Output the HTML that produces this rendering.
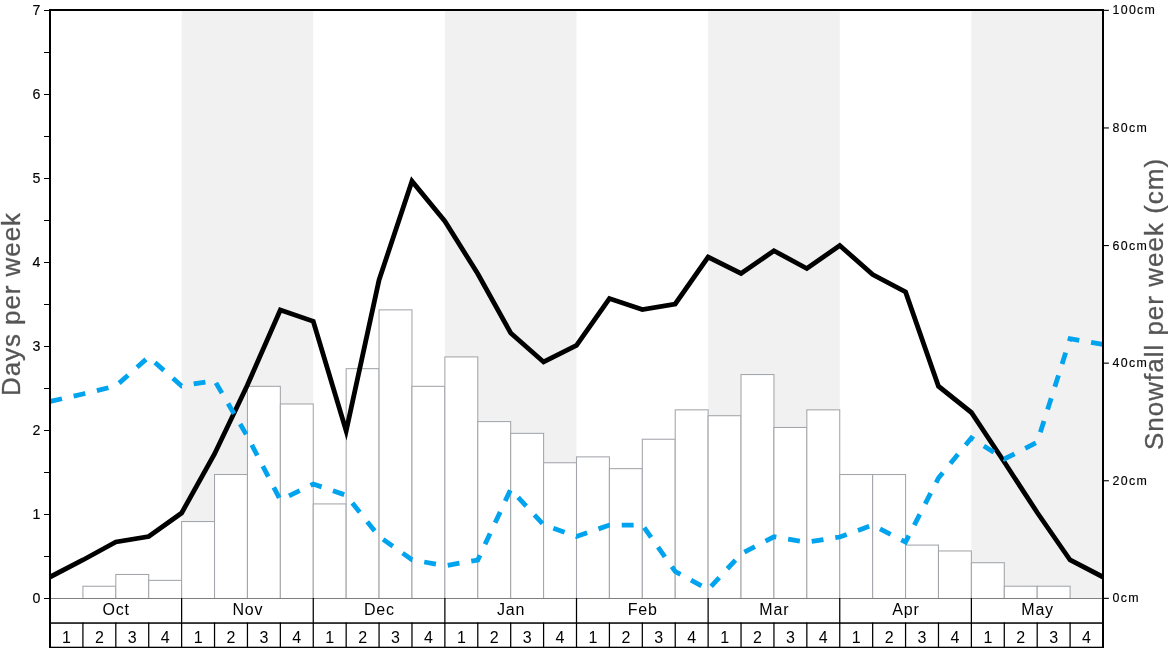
<!DOCTYPE html>
<html><head><meta charset="utf-8"><title>Snow history</title>
<style>
html,body{margin:0;padding:0;background:#fff;}
body{width:1168px;height:648px;overflow:hidden;font-family:"Liberation Sans",sans-serif;}
svg{display:block;will-change:transform;}
</style></head><body>
<svg width="1168" height="648" viewBox="0 0 1168 648">
<rect x="0" y="0" width="1168" height="648" fill="#ffffff"/>
<rect x="181.62" y="10" width="131.62" height="588" fill="#f1f1f1"/>
<rect x="444.88" y="10" width="131.62" height="588" fill="#f1f1f1"/>
<rect x="708.12" y="10" width="131.62" height="588" fill="#f1f1f1"/>
<rect x="971.38" y="10" width="131.62" height="588" fill="#f1f1f1"/>
<rect x="82.91" y="586.24" width="32.906" height="12.26" fill="#ffffff" stroke="#a2a5a9" stroke-width="1.05"/>
<rect x="115.81" y="574.48" width="32.906" height="24.02" fill="#ffffff" stroke="#a2a5a9" stroke-width="1.05"/>
<rect x="148.72" y="580.36" width="32.906" height="18.14" fill="#ffffff" stroke="#a2a5a9" stroke-width="1.05"/>
<rect x="181.62" y="521.56" width="32.906" height="76.94" fill="#ffffff" stroke="#a2a5a9" stroke-width="1.05"/>
<rect x="214.53" y="474.52" width="32.906" height="123.98" fill="#ffffff" stroke="#a2a5a9" stroke-width="1.05"/>
<rect x="247.44" y="386.32" width="32.906" height="212.18" fill="#ffffff" stroke="#a2a5a9" stroke-width="1.05"/>
<rect x="280.34" y="403.96" width="32.906" height="194.54" fill="#ffffff" stroke="#a2a5a9" stroke-width="1.05"/>
<rect x="313.25" y="503.92" width="32.906" height="94.58" fill="#ffffff" stroke="#a2a5a9" stroke-width="1.05"/>
<rect x="346.16" y="368.68" width="32.906" height="229.82" fill="#ffffff" stroke="#a2a5a9" stroke-width="1.05"/>
<rect x="379.06" y="309.88" width="32.906" height="288.62" fill="#ffffff" stroke="#a2a5a9" stroke-width="1.05"/>
<rect x="411.97" y="386.32" width="32.906" height="212.18" fill="#ffffff" stroke="#a2a5a9" stroke-width="1.05"/>
<rect x="444.88" y="356.92" width="32.906" height="241.58" fill="#ffffff" stroke="#a2a5a9" stroke-width="1.05"/>
<rect x="477.78" y="421.60" width="32.906" height="176.90" fill="#ffffff" stroke="#a2a5a9" stroke-width="1.05"/>
<rect x="510.69" y="433.36" width="32.906" height="165.14" fill="#ffffff" stroke="#a2a5a9" stroke-width="1.05"/>
<rect x="543.59" y="462.76" width="32.906" height="135.74" fill="#ffffff" stroke="#a2a5a9" stroke-width="1.05"/>
<rect x="576.50" y="456.88" width="32.906" height="141.62" fill="#ffffff" stroke="#a2a5a9" stroke-width="1.05"/>
<rect x="609.41" y="468.64" width="32.906" height="129.86" fill="#ffffff" stroke="#a2a5a9" stroke-width="1.05"/>
<rect x="642.31" y="439.24" width="32.906" height="159.26" fill="#ffffff" stroke="#a2a5a9" stroke-width="1.05"/>
<rect x="675.22" y="409.84" width="32.906" height="188.66" fill="#ffffff" stroke="#a2a5a9" stroke-width="1.05"/>
<rect x="708.12" y="415.72" width="32.906" height="182.78" fill="#ffffff" stroke="#a2a5a9" stroke-width="1.05"/>
<rect x="741.03" y="374.56" width="32.906" height="223.94" fill="#ffffff" stroke="#a2a5a9" stroke-width="1.05"/>
<rect x="773.94" y="427.48" width="32.906" height="171.02" fill="#ffffff" stroke="#a2a5a9" stroke-width="1.05"/>
<rect x="806.84" y="409.84" width="32.906" height="188.66" fill="#ffffff" stroke="#a2a5a9" stroke-width="1.05"/>
<rect x="839.75" y="474.52" width="32.906" height="123.98" fill="#ffffff" stroke="#a2a5a9" stroke-width="1.05"/>
<rect x="872.66" y="474.52" width="32.906" height="123.98" fill="#ffffff" stroke="#a2a5a9" stroke-width="1.05"/>
<rect x="905.56" y="545.08" width="32.906" height="53.42" fill="#ffffff" stroke="#a2a5a9" stroke-width="1.05"/>
<rect x="938.47" y="550.96" width="32.906" height="47.54" fill="#ffffff" stroke="#a2a5a9" stroke-width="1.05"/>
<rect x="971.38" y="562.72" width="32.906" height="35.78" fill="#ffffff" stroke="#a2a5a9" stroke-width="1.05"/>
<rect x="1004.28" y="586.24" width="32.906" height="12.26" fill="#ffffff" stroke="#a2a5a9" stroke-width="1.05"/>
<rect x="1037.19" y="586.24" width="32.906" height="12.26" fill="#ffffff" stroke="#a2a5a9" stroke-width="1.05"/>
<rect x="51" y="598" width="1051" height="1" fill="#808080" shape-rendering="crispEdges"/>
<polyline points="50.00,577.00 82.91,560.00 115.81,542.00 148.72,536.50 181.62,513.00 214.53,454.00 247.44,385.00 280.34,310.00 313.25,321.25 346.16,431.00 379.06,280.00 411.97,181.25 444.88,221.25 477.78,273.75 510.69,333.00 543.59,362.00 576.50,345.50 609.41,298.50 642.31,309.50 675.22,304.00 708.12,257.00 741.03,273.50 773.94,250.75 806.84,268.50 839.75,245.50 872.66,274.50 905.56,292.00 938.47,386.25 971.38,412.50 1004.28,462.00 1037.19,512.50 1070.09,560.00 1103.00,577.00" fill="none" stroke="#000" stroke-width="4.8" stroke-linejoin="miter" stroke-miterlimit="10"/>
<polyline points="50.00,401.50 82.91,394.00 115.81,386.00 148.72,357.00 181.62,386.00 214.53,380.50 247.44,436.50 280.34,500.00 313.25,484.00 346.16,495.30 379.06,536.50 411.97,559.75 444.88,565.80 477.78,560.00 510.69,489.30 543.59,524.75 576.50,536.40 609.41,525.10 642.31,525.00 675.22,571.50 708.12,589.50 741.03,554.00 773.94,536.75 806.84,542.25 839.75,537.00 872.66,525.10 905.56,542.00 938.47,478.00 971.38,438.00 1004.28,459.00 1037.19,442.25 1070.09,338.75 1103.00,344.50" fill="none" stroke="#00a3ee" stroke-width="4.8" stroke-linejoin="miter" stroke-dasharray="11.9 11.99" stroke-dashoffset="-0.35"/>
<g shape-rendering="crispEdges" fill="#000">
<rect x="49" y="9" width="2" height="639"/>
<rect x="1102" y="9" width="2" height="639"/>
<rect x="49" y="9" width="1055" height="2"/>
</g>
<g fill="#000">
<rect x="49" y="622.3" width="1055" height="1.5"/>
<rect x="49" y="646.7" width="1055" height="1.3"/>
<rect x="82.29" y="622.5" width="1.25" height="25.5"/>
<rect x="115.19" y="622.5" width="1.25" height="25.5"/>
<rect x="148.10" y="622.5" width="1.25" height="25.5"/>
<rect x="181.00" y="598" width="1.25" height="50"/>
<rect x="213.91" y="622.5" width="1.25" height="25.5"/>
<rect x="246.82" y="622.5" width="1.25" height="25.5"/>
<rect x="279.72" y="622.5" width="1.25" height="25.5"/>
<rect x="312.63" y="598" width="1.25" height="50"/>
<rect x="345.54" y="622.5" width="1.25" height="25.5"/>
<rect x="378.44" y="622.5" width="1.25" height="25.5"/>
<rect x="411.35" y="622.5" width="1.25" height="25.5"/>
<rect x="444.25" y="598" width="1.25" height="50"/>
<rect x="477.16" y="622.5" width="1.25" height="25.5"/>
<rect x="510.07" y="622.5" width="1.25" height="25.5"/>
<rect x="542.97" y="622.5" width="1.25" height="25.5"/>
<rect x="575.88" y="598" width="1.25" height="50"/>
<rect x="608.79" y="622.5" width="1.25" height="25.5"/>
<rect x="641.69" y="622.5" width="1.25" height="25.5"/>
<rect x="674.60" y="622.5" width="1.25" height="25.5"/>
<rect x="707.50" y="598" width="1.25" height="50"/>
<rect x="740.41" y="622.5" width="1.25" height="25.5"/>
<rect x="773.32" y="622.5" width="1.25" height="25.5"/>
<rect x="806.22" y="622.5" width="1.25" height="25.5"/>
<rect x="839.13" y="598" width="1.25" height="50"/>
<rect x="872.04" y="622.5" width="1.25" height="25.5"/>
<rect x="904.94" y="622.5" width="1.25" height="25.5"/>
<rect x="937.85" y="622.5" width="1.25" height="25.5"/>
<rect x="970.75" y="598" width="1.25" height="50"/>
<rect x="1003.66" y="622.5" width="1.25" height="25.5"/>
<rect x="1036.57" y="622.5" width="1.25" height="25.5"/>
<rect x="1069.47" y="622.5" width="1.25" height="25.5"/>
</g>
<g shape-rendering="crispEdges" fill="#000">
<rect x="44" y="598" width="5" height="1"/>
<rect x="44" y="556" width="5" height="1"/>
<rect x="44" y="514" width="5" height="1"/>
<rect x="44" y="472" width="5" height="1"/>
<rect x="44" y="430" width="5" height="1"/>
<rect x="44" y="388" width="5" height="1"/>
<rect x="44" y="346" width="5" height="1"/>
<rect x="44" y="304" width="5" height="1"/>
<rect x="44" y="262" width="5" height="1"/>
<rect x="44" y="220" width="5" height="1"/>
<rect x="44" y="178" width="5" height="1"/>
<rect x="44" y="136" width="5" height="1"/>
<rect x="44" y="94" width="5" height="1"/>
<rect x="44" y="52" width="5" height="1"/>
<rect x="44" y="10" width="5" height="1"/>
</g>
<g fill="#000">
<rect x="1104" y="597.80" width="4.9" height="1.1"/>
<rect x="1104" y="480.20" width="4.9" height="1.1"/>
<rect x="1104" y="362.60" width="4.9" height="1.1"/>
<rect x="1104" y="245.00" width="4.9" height="1.1"/>
<rect x="1104" y="127.40" width="4.9" height="1.1"/>
<rect x="1104" y="9.80" width="4.9" height="1.1"/>
</g>
<g font-family="Liberation Sans, sans-serif" font-size="14.2px" fill="#000" stroke="#000" stroke-width="0.15" text-anchor="end">
<text x="40.3" y="603.00">0</text>
<text x="40.3" y="519.00">1</text>
<text x="40.3" y="435.00">2</text>
<text x="40.3" y="351.00">3</text>
<text x="40.3" y="267.00">4</text>
<text x="40.3" y="183.00">5</text>
<text x="40.3" y="99.00">6</text>
<text x="40.3" y="15.00">7</text>
</g>
<g font-family="Liberation Sans, sans-serif" font-size="12.4px" fill="#000" stroke="#000" stroke-width="0.15" text-anchor="start" letter-spacing="1.3">
<text x="1112.55" y="601.5">0cm</text>
<text x="1112.55" y="484.8">20cm</text>
<text x="1112.55" y="366.9">40cm</text>
<text x="1112.55" y="249.8">60cm</text>
<text x="1112.55" y="131.8">80cm</text>
<text x="1112.55" y="13.7">100cm</text>
</g>
<g font-family="Liberation Sans, sans-serif" font-size="16px" fill="#000" text-anchor="middle" letter-spacing="0.8">
<text x="116.21" y="615.2">Oct</text>
<text x="247.84" y="615.2">Nov</text>
<text x="379.46" y="615.2">Dec</text>
<text x="511.09" y="615.2">Jan</text>
<text x="642.71" y="615.2">Feb</text>
<text x="774.34" y="615.2">Mar</text>
<text x="905.96" y="615.2">Apr</text>
<text x="1037.59" y="615.2">May</text>
</g>
<g font-family="Liberation Sans, sans-serif" font-size="16px" fill="#000" text-anchor="middle">
<text x="66.45" y="642.9">1</text>
<text x="99.36" y="642.9">2</text>
<text x="132.27" y="642.9">3</text>
<text x="165.17" y="642.9">4</text>
<text x="198.08" y="642.9">1</text>
<text x="230.98" y="642.9">2</text>
<text x="263.89" y="642.9">3</text>
<text x="296.80" y="642.9">4</text>
<text x="329.70" y="642.9">1</text>
<text x="362.61" y="642.9">2</text>
<text x="395.52" y="642.9">3</text>
<text x="428.42" y="642.9">4</text>
<text x="461.33" y="642.9">1</text>
<text x="494.23" y="642.9">2</text>
<text x="527.14" y="642.9">3</text>
<text x="560.05" y="642.9">4</text>
<text x="592.95" y="642.9">1</text>
<text x="625.86" y="642.9">2</text>
<text x="658.77" y="642.9">3</text>
<text x="691.67" y="642.9">4</text>
<text x="724.58" y="642.9">1</text>
<text x="757.48" y="642.9">2</text>
<text x="790.39" y="642.9">3</text>
<text x="823.30" y="642.9">4</text>
<text x="856.20" y="642.9">1</text>
<text x="889.11" y="642.9">2</text>
<text x="922.02" y="642.9">3</text>
<text x="954.92" y="642.9">4</text>
<text x="987.83" y="642.9">1</text>
<text x="1020.73" y="642.9">2</text>
<text x="1053.64" y="642.9">3</text>
<text x="1086.55" y="642.9">4</text>
</g>
<g font-family="Liberation Sans, sans-serif" font-size="26px" fill="#555555" stroke="#555555" stroke-width="0.3" text-anchor="middle">
<text transform="translate(20,304) rotate(-90)" letter-spacing="0.93">Days per week</text>
<text transform="translate(1162.9,304) rotate(-90)" letter-spacing="1.0">Snowfall per week (cm)</text>
</g>
</svg>
</body></html>
